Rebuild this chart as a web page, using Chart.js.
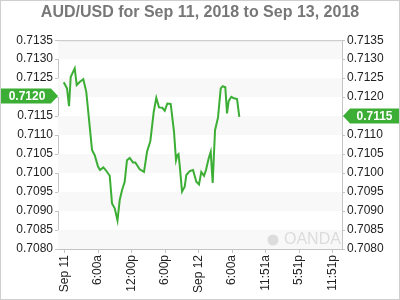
<!DOCTYPE html>
<html>
<head>
<meta charset="utf-8">
<script src="https://cdn.jsdelivr.net/npm/chart.js@4"></script>
<style>
  html, body { margin: 0; padding: 0; background: #fff; }
  #wrap { width: 400px; height: 300px; position: relative; }
</style>
</head>
<body>
<div id="wrap"><canvas id="lineChart"></canvas></div>
<script>
// hours from Sep 11 00:00
const hours = [-0.14, 0.45, 0.81, 1.11, 1.83, 2.19, 2.72, 3.37, 3.90, 4.93, 5.41, 6.00, 6.36, 6.95, 7.38, 8.10,
  8.51, 8.99, 9.49, 9.89, 10.30, 10.78, 11.19, 11.68, 12.27, 12.68, 13.47, 14.24, 14.78, 15.37, 15.98, 16.44,
  16.93, 17.52, 17.95, 18.41, 19.02, 19.61, 19.97, 20.20, 20.42, 20.63, 21.05, 21.53, 21.82, 22.43, 23.02, 23.61,
  24.09, 24.50, 24.99, 25.34, 25.83, 26.19, 26.54, 26.96, 27.49, 27.98, 28.34, 28.80, 29.11, 29.41, 29.88, 30.36,
  30.90, 31.31];
const prices = [0.71239, 0.71223, 0.71176, 0.71253, 0.71276, 0.71232, 0.71240, 0.71247, 0.71214, 0.71061, 0.71047,
  0.71017, 0.71008, 0.71015, 0.71008, 0.70993, 0.70920, 0.70907, 0.70875, 0.70929, 0.70955, 0.70977, 0.71034,
  0.71040, 0.71028, 0.71028, 0.71010, 0.71003, 0.71056, 0.71084, 0.71161, 0.71198, 0.71173, 0.71172, 0.71164,
  0.71183, 0.71182, 0.71109, 0.71034, 0.71047, 0.71050, 0.71021, 0.70951, 0.70964, 0.70995, 0.71005, 0.71008,
  0.70977, 0.70970, 0.71003, 0.70993, 0.71008, 0.71039, 0.71056, 0.70974, 0.71113, 0.71146, 0.71223, 0.71229,
  0.71226, 0.71157, 0.71190, 0.71201, 0.71197, 0.71195, 0.71148];

const xTickHours = [0, 6, 12, 18, 24, 30, 36, 42, 48];
const xLabels = ['Sep 11', '6:00a', '12:00p', '6:00p', 'Sep 12', '6:00a', '11:51a', '5:51p', '11:51p'];
const yTicks = [0.7080, 0.7085, 0.7090, 0.7095, 0.7100, 0.7105, 0.7110, 0.7115, 0.7120, 0.7125, 0.7130, 0.7135];
const openPrice = 0.7120;
const lastPrice = 0.7115;

const GREEN = '#3cae35';
const AXIS = '#c4c4c4';
const FONT = 'Liberation Sans, Arial, sans-serif';

const decorations = {
  id: 'decorations',
  beforeDatasetsDraw(chart) {
    const { ctx, chartArea: a, scales } = chart;
    const y = scales.y;
    ctx.save();
    ctx.fillStyle = '#f8f8f8';
    for (let i = 0; i < yTicks.length - 1; i += 2) {
      const top = y.getPixelForValue(yTicks[i + 1]);
      const bot = y.getPixelForValue(yTicks[i]);
      ctx.fillRect(a.left, top, a.right - a.left, bot - top);
    }
    // watermark
    ctx.fillStyle = '#dcdcdc';
    ctx.beginPath();
    ctx.arc(a.right - 69, a.bottom - 9, 5.5, 0, Math.PI * 2);
    ctx.fill();
    ctx.font = '16px ' + FONT;
    ctx.textBaseline = 'middle';
    ctx.fillText('OANDA', a.right - 58, a.bottom - 9);
    ctx.restore();
  },
  afterDraw(chart) {
    const { ctx, chartArea: a, scales } = chart;
    ctx.save();
    ctx.strokeStyle = AXIS;
    ctx.lineWidth = 1;
    ctx.beginPath();
    ctx.moveTo(a.left, a.top + 0.5);
    ctx.lineTo(a.right, a.top + 0.5);
    ctx.stroke();

    ctx.font = 'bold 12px ' + FONT;
    ctx.textBaseline = 'middle';
    const h = 15;
    // left marker (open)
    let py = Math.round(scales.y.getPixelForValue(openPrice)) - 1;
    ctx.fillStyle = GREEN;
    ctx.beginPath();
    ctx.moveTo(1, py - h / 2);
    ctx.lineTo(a.left - 7, py - h / 2);
    ctx.lineTo(a.left, py);
    ctx.lineTo(a.left - 7, py + h / 2);
    ctx.lineTo(1, py + h / 2);
    ctx.closePath();
    ctx.fill();
    ctx.fillStyle = '#fff';
    ctx.textAlign = 'center';
    ctx.fillText(openPrice.toFixed(4), (a.left - 6) / 2 + 1, py + 1);

    // right marker (last)
    py = Math.round(scales.y2.getPixelForValue(lastPrice));
    ctx.fillStyle = GREEN;
    ctx.beginPath();
    ctx.moveTo(a.right + 1, py);
    ctx.lineTo(a.right + 8, py - h / 2);
    ctx.lineTo(399, py - h / 2);
    ctx.lineTo(399, py + h / 2);
    ctx.lineTo(a.right + 8, py + h / 2);
    ctx.closePath();
    ctx.fill();
    ctx.fillStyle = '#fff';
    ctx.fillText(lastPrice.toFixed(4), (a.right + 8 + 399) / 2, py + 1);

    // outer frame
    ctx.strokeStyle = '#cfcfcf';
    ctx.strokeRect(0.5, 0.5, 399, 299);
    ctx.restore();
  }
};

function yAxis(position, width) {
  return {
    type: 'linear',
    position: position,
    min: yTicks[0],
    max: yTicks[yTicks.length - 1],
    afterBuildTicks: s => { s.ticks = yTicks.map(v => ({ value: v })); },
    afterFit: s => { s.width = width; },
    ticks: {
      callback: v => Number(v).toFixed(4),
      color: '#222',
      font: { family: FONT, size: 12 },
      padding: 2
    },
    grid: { drawOnChartArea: false, drawTicks: true, tickLength: 3, color: AXIS },
    border: { display: true, color: AXIS }
  };
}

function renderChart() {
  const ctx = document.getElementById('lineChart').getContext('2d');
  new Chart(ctx, {
    type: 'line',
    data: {
      datasets: [{
        label: 'AUD/USD',
        data: hours.map((h, i) => ({ x: h, y: prices[i] })),
        borderColor: GREEN,
        borderWidth: 2,
        pointRadius: 0,
        fill: false,
        tension: 0
      }]
    },
    options: {
      responsive: true,
      maintainAspectRatio: false,
      animation: false,
      layout: { padding: 0 },
      plugins: {
        legend: { display: false },
        tooltip: { enabled: false },
        title: {
          display: true,
          text: 'AUD/USD for Sep 11, 2018 to Sep 13, 2018',
          color: '#777',
          font: { family: FONT, size: 16, weight: 'bold' },
          padding: { top: 3, bottom: 18 }
        }
      },
      scales: {
        x: {
          type: 'linear',
          min: -1.164,
          max: 49.7,
          afterBuildTicks: s => { s.ticks = xTickHours.map(v => ({ value: v })); },
          afterFit: s => { s.height = 51; },
          ticks: {
            callback: v => xLabels[xTickHours.indexOf(v)],
            minRotation: 90,
            maxRotation: 90,
            color: '#222',
            font: { family: FONT, size: 12 },
            padding: 2
          },
          grid: { drawOnChartArea: false, drawTicks: true, tickLength: 4, color: AXIS },
          border: { display: true, color: AXIS }
        },
        y: yAxis('left', 58),
        y2: yAxis('right', 58)
      }
    },
    plugins: [decorations]
  });
}

renderChart();
</script>
</body>
</html>
